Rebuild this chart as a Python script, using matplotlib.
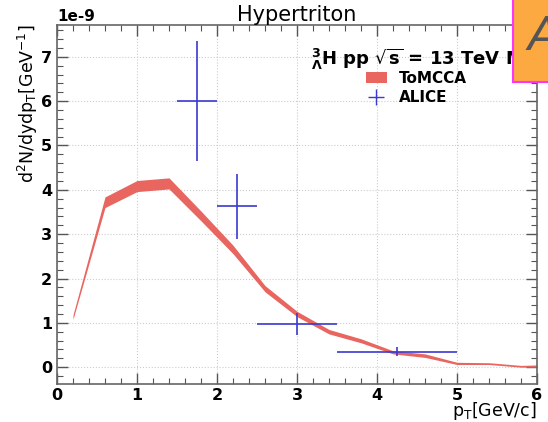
import matplotlib
matplotlib.use("Agg")
import matplotlib.pyplot as plt
from matplotlib.patches import Patch, Rectangle
from matplotlib.lines import Line2D
from matplotlib.ticker import MultipleLocator
import numpy as np

plt.rcParams["axes.unicode_minus"] = False

# ToMCCA band (units 1e-9)
band_pt = [0.2, 0.6, 1.0, 1.4, 1.8, 2.2, 2.6, 3.0, 3.4, 3.8, 4.2, 4.6, 5.0, 5.4, 5.8, 6.0]
band_hi = [1.18, 3.84, 4.21, 4.27, 3.52, 2.75, 1.84, 1.26, 0.85, 0.64, 0.37, 0.30, 0.11, 0.10, 0.04, 0.05]
band_lo = [1.08, 3.60, 3.96, 4.02, 3.30, 2.56, 1.70, 1.14, 0.75, 0.55, 0.30, 0.22, 0.06, 0.06, 0.00, 0.00]

# ALICE data (units 1e-9)
alice_pt = [1.75, 2.25, 3.0, 4.25]
alice_y = [6.0, 3.63, 0.97, 0.35]
alice_xerr = [0.25, 0.25, 0.5, 0.75]
alice_yerr = [1.35, 0.73, 0.25, 0.10]

scale = 1e-9

fig = plt.figure(figsize=(5.48, 4.22), dpi=100)
ax = fig.add_axes([0.104, 0.090, 0.876, 0.851])

ax.fill_between(band_pt, np.array(band_lo) * scale, np.array(band_hi) * scale,
                color="#e8665f", linewidth=0, zorder=2)
ax.errorbar(alice_pt, np.array(alice_y) * scale,
            xerr=alice_xerr, yerr=np.array(alice_yerr) * scale,
            fmt="none", ecolor="#3a3acf", elinewidth=1.2, zorder=3)

ax.set_xlim(0, 6)
ax.set_ylim(-0.38e-9, 7.72e-9)
ax.xaxis.set_major_locator(MultipleLocator(1))
ax.xaxis.set_minor_locator(MultipleLocator(0.2))
ax.yaxis.set_major_locator(MultipleLocator(1e-9))
ax.yaxis.set_minor_locator(MultipleLocator(0.2e-9))
ax.tick_params(which="both", direction="in", top=True, right=True, color="#555555")
ax.tick_params(which="major", length=8, width=1.0, labelsize=11.5)
ax.tick_params(axis="x", which="major", pad=3)
ax.tick_params(which="minor", length=4, width=0.8)
for lbl in ax.get_xticklabels() + ax.get_yticklabels():
    lbl.set_fontweight("bold")
ax.yaxis.get_offset_text().set_fontweight("bold")
ax.yaxis.get_offset_text().set_fontsize(11)
for sp in ax.spines.values():
    sp.set_color("#666666")
    sp.set_linewidth(1.2)
ax.grid(True, which="major", linestyle=":", color="#cccccc", linewidth=0.8)
ax.set_axisbelow(True)

ax.set_title("Hypertriton", fontsize=15, pad=3)
ax.set_ylabel(r"d$^2$N/dyd$\mathrm{p_T}$[GeV$^{-1}$]", fontsize=12.5, loc="top", labelpad=1)
ax.set_xlabel(r"$\mathrm{p_T}$[GeV/c]", fontsize=12.5, loc="right", labelpad=-2)

ax.text(0.53, 0.905, r"$^{\mathbf{3}}_{\mathbf{\Lambda}}$H pp $\sqrt{\mathbf{s}}$ = 13 TeV MB",
        transform=ax.transAxes, fontsize=13, fontweight="bold", va="center", ha="left")

handles = [Patch(facecolor="#e8665f", edgecolor="none", label="ToMCCA"),
           Line2D([], [], color="#3a3acf", marker="+", linestyle="none", markersize=12,
                  markeredgewidth=1.0, label="ALICE")]
leg = ax.legend(handles=handles, loc="upper left", bbox_to_anchor=(0.63, 0.89),
                frameon=False, prop={"weight": "bold", "size": 11}, handlelength=1.4,
                borderaxespad=0, labelspacing=0.3)

# orange overlay box at top right
fig.patches.append(Rectangle((513 / 548, 1 - 82 / 422), 0.2, 0.3, transform=fig.transFigure,
                             facecolor="#fba940", edgecolor="#ff33ff", linewidth=1.5, zorder=10))
fig.text(528 / 548, 1 - 38 / 422, "A", fontsize=34, color="#555555", style="italic",
         ha="left", va="center", zorder=11)

fig.savefig("out.png", dpi=100)
